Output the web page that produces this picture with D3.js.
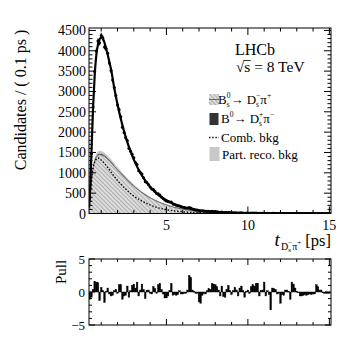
<!DOCTYPE html>
<html><head><meta charset="utf-8">
<script src="https://cdn.jsdelivr.net/npm/d3@7"></script>
<style>
body{margin:0;background:#fff}
svg{display:block}
text{font-family:"Liberation Serif","Times New Roman",serif;fill:#000;white-space:pre}
</style>
</head><body><svg id="c" width="349" height="340"></svg>
<script>
// ---------------- data ----------------
const binStart = 0.25, binWidth = 0.1;
const dataCounts = [378,1469,2620,3493,3994,4240,4195,4376,4313,4096,
 4056,3937,3702,3514,3280,3095,2895,2669,2552,2380,
 2118,1994,1862,1794,1604,1533,1459,1369,1256,1202,
 1052,1008,968,880,781,759,711,650,603,588,
 542,490,484,456,408,367,330,308,292,284,
 283,236,222,205,192,187,168,156,147,137,
 133,149,135,108,99,89,83,66,59,65,
 62,58,57,56,51,54,50,46,41,36,
 29,35,24,22,26,27,22,17,19,20,
 17,12,16,16,12,8,10,10,8,10,
 11,10,10,9,4,6,6,8,3,4,
 3,0,4,4,3,2,2,0,2,1,
 2,2,2,0,3,3,2,1,1,0,
 0,1,0,1,0,1,0,0,1,2,
 1,1,0,0,1,0,0,0];
const pulls = [-1.1,-0.8,0.4,1.6,1.5,1.4,-1.3,0.7,0.2,-1.6,
 0.1,0.6,-0.3,-0.6,-0.5,0.2,0.4,-0.2,1.1,1.1,
 -1.1,-0.6,-0.5,0.9,-0.8,0.2,1.0,1.2,0.6,1.5,
 -0.6,0.3,1.2,0.4,-1.0,0.2,0.3,-0.2,-0.3,0.8,
 0.5,-0.2,1.1,1.3,0.4,-0.3,-0.9,-0.9,-0.6,0.2,
 1.3,-0.5,-0.4,-0.5,-0.4,0.2,-0.3,-0.3,-0.2,-0.2,
 0.3,2.5,2.2,0.3,0.1,-0.2,-0.2,-1.5,-1.7,-0.5,
 -0.2,-0.3,0.2,0.5,0.4,1.3,1.2,1.1,0.8,0.3,
 -0.6,0.9,-0.7,-0.8,0.4,1.0,0.2,-0.4,0.2,0.7,
 0.3,-0.6,0.6,0.9,0.2,-0.8,0.1,0.3,-0.2,0.8,
 1.1,0.9,1.3,1.3,-0.6,0.2,0.3,1.5,-0.6,0.2,
 -0.4,-2.7,0.6,0.5,0.4,-0.3,-0.2,-1.7,-0.4,-0.5,
 0.3,0.3,0.1,-1.1,1.5,1.2,0.6,0.1,0.0,-0.6,
 -0.6,-0.5,-0.4,-0.5,-0.4,-0.3,-0.4,-0.3,-0.3,1.1,
 0.8,0.3,0.3,-0.1,-0.2,-0.2,-0.2,-0.2];
const tGrid    = [0.25,0.3,0.35,0.4,0.5,0.6,0.7,0.8,0.9,1.0,1.1,1.2,1.3,1.4,1.5,1.6,1.8,2.0,2.2,2.5,2.8,3.0,3.5,4.0,4.5,5.0,5.5,6.0,6.5,7.0,8.0,9.0,10,11,12,13,14,15.1];
const fitTotal = [150,400,900,1500,2600,3400,3900,4150,4280,4330,4300,4200,4050,3900,3720,3550,3084,2679,2327,1884,1525,1325,931,655,460,324,228,160,112,79,39,19,9.5,4.7,2.3,1.1,0.6,0.3];
const bsDsPi   = [150,380,600,800,1100,1280,1380,1430,1445,1440,1425,1400,1368,1330,1290,1250,1160,1070,985,860,740,670,510,385,285,210,150,105,72,50,22,10,4,2,1,0.5,0.2,0.1];
const b0DsPi   = [3,8,12,15,20,23,25,26,26,26,26,25,25,24,23,22,21,19,18,16,14,13,10,8,6,4.5,3.5,2.5,2,1.5,0.8,0.4,0.2,0.1,0,0,0,0];
const partReco = [5,15,25,35,50,60,66,70,70,70,69,68,66,64,62,60,56,52,48,42,37,34,27,21,16,12,9,7,5,4,2,1,0.5,0.2,0,0,0,0];
const combBkg  = [150,400,650,850,1120,1270,1340,1365,1350,1310,1270,1230,1180,1130,1075,1020,910,810,720,600,490,430,305,210,140,95,62,42,28,20,9,4,2,1,0.5,0.2,0.1,0];
const yMainTicks = [0,500,1000,1500,2000,2500,3000,3500,4000,4500];
const xTickLabels = [5,10,15];
const pullTickLabels = [-5,0,5];
const legendLabels = ["Bs", "B0", "Comb. bkg", "Part. reco. bkg"];

// ---------------- layout ----------------
const svg = d3.select("#c");
const M = {l:89, r:331, t:28, b:213.5};
const P = {l:89, r:331, t:259, b:325};
const x = d3.scaleLinear().domain([0.25,15.1]).range([M.l, M.r]);
const y = d3.scaleLinear().domain([0,4560]).range([M.b, M.t]);
const xp = d3.scaleLinear().domain([0.25,15.1]).range([P.l, P.r]);
const yp = d3.scaleLinear().domain([-5,5]).range([P.b, P.t]);

const defs = svg.append("defs");
defs.append("clipPath").attr("id","clipM").append("rect")
  .attr("x",M.l).attr("y",M.t).attr("width",M.r-M.l).attr("height",M.b-M.t);
defs.append("clipPath").attr("id","clipP").append("rect")
  .attr("x",P.l).attr("y",P.t).attr("width",P.r-P.l).attr("height",P.b-P.t);
const pat = defs.append("pattern").attr("id","hatch").attr("patternUnits","userSpaceOnUse")
  .attr("width",3).attr("height",3).attr("patternTransform","rotate(-45)");
pat.append("rect").attr("width",3).attr("height",3).attr("fill","#dcdcdc");
pat.append("line").attr("x1",0).attr("y1",0).attr("x2",0).attr("y2",3)
  .attr("stroke","#8a8a8a").attr("stroke-width",1.1);

const curveData = tGrid.map((t,i)=>({t, tot:fitTotal[i], bs:bsDsPi[i], b0:b0DsPi[i], pr:partReco[i], cb:combBkg[i]}));
const gM = svg.append("g").attr("clip-path","url(#clipM)");
const cv = d3.curveMonotoneX;

gM.append("path").datum(curveData)
  .attr("d", d3.area().curve(cv).x(d=>x(d.t)).y0(d=>y(d.bs+d.b0)).y1(d=>y(d.bs+d.b0+d.pr)))
  .attr("fill","#c8c8c8");
gM.append("path").datum(curveData)
  .attr("d", d3.area().curve(cv).x(d=>x(d.t)).y0(d=>y(d.bs)).y1(d=>y(d.bs+d.b0)))
  .attr("fill","#333");
gM.append("path").datum(curveData)
  .attr("d", d3.area().curve(cv).x(d=>x(d.t)).y0(y(0)).y1(d=>y(d.bs)))
  .attr("fill","url(#hatch)");
gM.append("path").datum(curveData)
  .attr("d", d3.line().curve(cv).x(d=>x(d.t)).y(d=>y(d.bs)))
  .attr("fill","none").attr("stroke","#6a6a6a").attr("stroke-width",1);
gM.append("path").datum(curveData)
  .attr("d", d3.line().curve(cv).x(d=>x(d.t)).y(d=>y(d.cb)))
  .attr("fill","none").attr("stroke","#000").attr("stroke-width",1.4).attr("stroke-dasharray","1.4,1.8");
gM.append("path").datum(curveData)
  .attr("d", d3.line().curve(cv).x(d=>x(d.t)).y(d=>y(d.tot)))
  .attr("fill","none").attr("stroke","#000").attr("stroke-width",2.2);
const pts = dataCounts.map((n,i)=>({t: binStart + binWidth*(i+0.5), n}));
gM.selectAll("line.err").data(pts.filter(d=>d.n>0)).join("line").attr("class","err")
  .attr("x1",d=>x(d.t)).attr("x2",d=>x(d.t))
  .attr("y1",d=>y(d.n+Math.sqrt(d.n))).attr("y2",d=>y(d.n-Math.sqrt(d.n)))
  .attr("stroke","#000").attr("stroke-width",1);
gM.selectAll("circle").data(pts).join("circle")
  .attr("cx",d=>x(d.t)).attr("cy",d=>y(d.n)).attr("r",1.5).attr("fill","#000");

function frame(box){
  svg.append("rect").attr("x",box.l).attr("y",box.t).attr("width",box.r-box.l).attr("height",box.b-box.t)
    .attr("fill","none").attr("stroke","#000").attr("stroke-width",1);
}
function tickLines(list){
  svg.append("g").selectAll("line").data(list).join("line")
    .attr("x1",d=>d[0]).attr("y1",d=>d[1]).attr("x2",d=>d[2]).attr("y2",d=>d[3])
    .attr("stroke","#000").attr("stroke-width",1);
}
frame(M);
let tl = [];
for (let v=0; v<=4500; v+=100){
  const L = (v%500===0)?7:3.5, yy=y(v);
  tl.push([M.l,yy,M.l+L,yy]); tl.push([M.r,yy,M.r-L,yy]);
}
for (let v=1; v<=15; v++){
  const L = (v%5===0)?7:3.5, xx=x(v);
  tl.push([xx,M.b,xx,M.b-L]); tl.push([xx,M.t,xx,M.t+L]);
}
tickLines(tl);
svg.append("g").selectAll("text").data(yMainTicks).join("text")
  .attr("x",M.l-3).attr("y",d=>y(d)+5).attr("text-anchor","end").style("font-size","14px").text(d=>d);
svg.append("g").selectAll("text").data(xTickLabels).join("text")
  .attr("x",d=>x(d)).attr("y",M.b+16).attr("text-anchor","middle").style("font-size","14px").text(d=>d);

svg.append("text").attr("transform","translate(26,100) rotate(-90)").attr("text-anchor","middle")
  .style("font-size","16px").text("Candidates / ( 0.1 ps )");

function rich(g, x0, y0, segs){
  let cx=x0, prevX=x0, prevW=0;
  const out=[];
  segs.forEach(s=>{
    const sx = s.stack ? prevX : cx;
    const t = g.append("text").attr("x",sx).attr("y",y0+(s.dy||0))
      .style("font-size",s.size+"px").style("font-style",s.it?"italic":null).text(s.text);
    const w = t.node().getComputedTextLength();
    out.push({x:sx,w});
    if (s.stack){ prevW=Math.max(prevW,w); cx=prevX+prevW; }
    else { prevX=sx; prevW=w; cx=sx+w; }
  });
  return {end:cx, parts:out};
}

svg.append("text").attr("x",235).attr("y",55).style("font-size","16px").text("LHCb");
const gs = svg.append("g");
const rs = rich(gs, 236, 72, [{text:"√",size:15},{text:"s",size:15.5},{text:" = 8 TeV",size:15.5}]);
gs.append("line").attr("x1",rs.parts[1].x-0.5).attr("x2",rs.parts[1].x+rs.parts[1].w+0.5)
  .attr("y1",60.5).attr("y2",60.5).attr("stroke","#000").attr("stroke-width",0.8);

const lg = svg.append("g");
const rows = [104,123,142,159];
const sx0 = 209, sw = 10, tx = 221;
lg.append("rect").attr("x",sx0).attr("y",rows[0]-10).attr("width",sw).attr("height",11).attr("fill","url(#hatch)");
lg.append("line").attr("x1",sx0).attr("x2",sx0+sw).attr("y1",rows[0]-4.5).attr("y2",rows[0]-4.5).attr("stroke","#6a6a6a").attr("stroke-width",1);
rich(lg, tx-3, rows[0], [{text:"B",size:13},{text:"0",size:7.5,dy:-6},{text:"s",size:7.5,dy:3,stack:true},
  {text:"→ D",size:13},{text:"−",size:7.5,dy:-6},{text:"s",size:7.5,dy:3,stack:true},{text:"π",size:13},{text:"+",size:7.5,dy:-6}]);
lg.append("rect").attr("x",sx0+0.5).attr("y",rows[1]-10).attr("width",sw-1).attr("height",12).attr("fill","#333");
rich(lg, tx, rows[1], [{text:"B",size:13},{text:"0",size:7.5,dy:-6},
  {text:"→ D",size:13},{text:"+",size:7.5,dy:-6},{text:"s",size:7.5,dy:3,stack:true},{text:"π",size:13},{text:"−",size:7.5,dy:-6}]);
lg.append("line").attr("x1",sx0).attr("x2",sx0+sw).attr("y1",rows[2]-4.5).attr("y2",rows[2]-4.5)
  .attr("stroke","#000").attr("stroke-width",1.4).attr("stroke-dasharray","1.4,1.8");
lg.append("text").attr("x",tx).attr("y",rows[2]).style("font-size","13px").text(legendLabels[2]);
lg.append("rect").attr("x",sx0+0.5).attr("y",rows[3]-12).attr("width",sw).attr("height",14).attr("fill","#c8c8c8");
lg.append("text").attr("x",tx+1).attr("y",rows[3]).style("font-size","13px").text(legendLabels[3]);

const gx = svg.append("g");
const rx = rich(gx, 0, 246, [{text:"t",size:19,it:true},{text:" ",size:5},{text:"D",size:10,dy:4},
  {text:"−",size:7,dy:-1},{text:"s",size:7,dy:6,stack:true},{text:"π",size:10,dy:4},{text:"+",size:7,dy:-1},
  {text:" [ps]",size:16.5}]);
gx.attr("transform",`translate(${331-rx.end},0)`);

const gP = svg.append("g").attr("clip-path","url(#clipP)");
gP.selectAll("rect").data(pulls).join("rect")
  .attr("x",(d,i)=>xp(binStart+binWidth*i))
  .attr("width",(d,i)=>xp(binStart+binWidth*(i+1))-xp(binStart+binWidth*i))
  .attr("y",d=>Math.min(yp(d),yp(0)))
  .attr("height",d=>Math.max(0.8,Math.abs(yp(d)-yp(0))))
  .attr("fill","#000").attr("stroke","#000").attr("stroke-width",0.4);
frame(P);
tl=[];
for (let v=-5; v<=5; v++){
  const L=(v%5===0)?6:3, yy=yp(v);
  tl.push([P.l,yy,P.l+L,yy]); tl.push([P.r,yy,P.r-L,yy]);
}
for (let v=1; v<=15; v++){
  const L=(v%5===0)?6:3, xx=xp(v);
  tl.push([xx,P.b,xx,P.b-L]); tl.push([xx,P.t,xx,P.t+L]);
}
tickLines(tl);
svg.append("g").selectAll("text").data(pullTickLabels).join("text")
  .attr("x",P.l-4).attr("y",d=>yp(d)+4.5).attr("text-anchor","end").style("font-size","13px")
  .text(d=>d<0?"−"+Math.abs(d):d);
svg.append("text").attr("transform","translate(66,272) rotate(-90)").attr("text-anchor","middle")
  .style("font-size","15px").text("Pull");
</script>
</body></html>
